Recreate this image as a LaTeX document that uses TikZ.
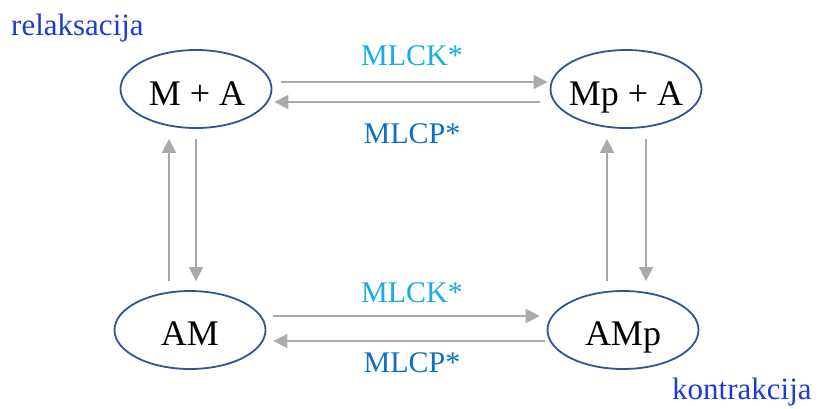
\documentclass[tikz,border=0pt]{standalone}
\usepackage{fontspec}
\setmainfont{Liberation Serif}
\usetikzlibrary{shapes.geometric,arrows.meta}

\definecolor{rimblue}{RGB}{47,85,151}
\definecolor{arrgray}{RGB}{170,170,170}
\definecolor{kinase}{RGB}{26,170,230}
\definecolor{phosph}{RGB}{16,112,192}
\definecolor{statelbl}{RGB}{30,60,210}

\tikzset{
  state/.style={ellipse, draw=rimblue, line width=1.8pt, inner sep=0pt,
    minimum width=151pt, minimum height=78pt},
  statetext/.style={anchor=base, inner sep=0pt, font=\fontsize{36}{40}\selectfont},
  enzyme/.style={anchor=base, inner sep=0pt, font=\fontsize{30}{34}\selectfont},
  phase/.style={anchor=base west, inner sep=0pt, text=statelbl,
    font=\fontsize{31}{35}\selectfont},
  flow/.style={draw=arrgray, line width=1.6pt,
    -{Triangle[length=14pt,width=14pt,fill=arrgray]}},
}

\begin{document}
\begin{tikzpicture}[x=1pt,y=-1pt]
  \useasboundingbox (0,0) rectangle (818,408);

  % states of myosin / actin
  \node[state] (ma)  at (196,89)  {};
  \node[state] (mpa) at (626,89)  {};
  \node[state] (am)  at (190,330) {};
  \node[state] (amp) at (623,330) {};

  \node[statetext] (ma-t)  at ([shift={(1,16)}]ma.center)  {M + A};
  \node[statetext] (mpa-t) at ([shift={(0,16)}]mpa.center) {Mp + A};
  \node[statetext] (am-t)  at ([shift={(0,15)}]am.center)  {AM};
  \node[statetext] (amp-t) at ([shift={(0,15)}]amp.center) {AMp};

  % phosphorylation / dephosphorylation, upper pair
  \draw[flow] ([shift={(9,-7)}]ma.east) -- ([shift={(-2,-7)}]mpa.west);
  \draw[flow] ([shift={(-10,13)}]mpa.west) -- ([shift={(2,13)}]ma.east);

  % phosphorylation / dephosphorylation, lower pair
  \draw[flow] ([shift={(7,-14)}]am.east) -- ([shift={(-7,-14)}]amp.west);
  \draw[flow] ([shift={(-2,11)}]amp.west) -- ([shift={(7,11)}]am.east);

  % binding / release, left
  \draw[flow] ([shift={(-21,-9)}]am.north) -- ([shift={(-27,10)}]ma.south);
  \draw[flow] ([shift={(0,10)}]ma.south) -- ([shift={(6,-9)}]am.north);

  % binding / release, right
  \draw[flow] ([shift={(-16,-9)}]amp.north) -- ([shift={(-19,10)}]mpa.south);
  \draw[flow] ([shift={(20,10)}]mpa.south) -- ([shift={(23,-9)}]amp.north);

  % enzyme labels
  \node[enzyme, text=kinase] (k1) at (412,65)  {MLCK*};
  \node[enzyme, text=phosph] (p1) at (412,143) {MLCP*};
  \node[enzyme, text=kinase] (k2) at (412,302) {MLCK*};
  \node[enzyme, text=phosph] (p2) at (412,372) {MLCP*};

  % phase labels
  \node[phase] (rel) at (11,35)   {relaksacija};
  \node[phase] (kon) at (672,399) {kontrakcija};
\end{tikzpicture}
\end{document}
